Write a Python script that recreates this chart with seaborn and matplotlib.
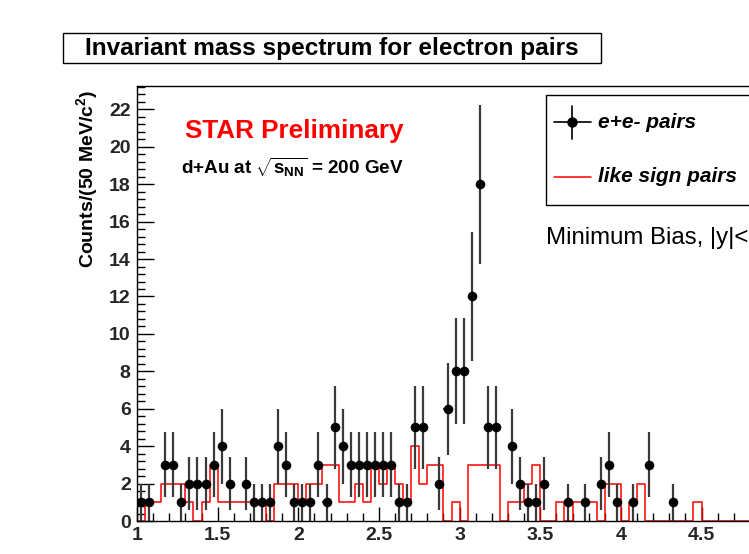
import numpy as np
import pandas as pd
import matplotlib
matplotlib.use("Agg")
import matplotlib.pyplot as plt
import seaborn as sns
from matplotlib.patches import Rectangle
from matplotlib.lines import Line2D
from matplotlib.ticker import MultipleLocator

# ---------------- data ----------------
# unlike-sign e+e- pairs (bin centres, GeV/c^2) and counts per 50 MeV/c^2
ee_mass = [1.025, 1.075, 1.175, 1.225, 1.275, 1.325, 1.375, 1.425, 1.475, 1.525,
           1.575, 1.675, 1.725, 1.775, 1.825, 1.875, 1.925, 1.975, 2.025, 2.075,
           2.125, 2.175, 2.225, 2.275, 2.325, 2.375, 2.425, 2.475, 2.525, 2.575,
           2.625, 2.675, 2.725, 2.775, 2.875, 2.925, 2.975, 3.025, 3.075, 3.125,
           3.175, 3.225, 3.325, 3.375, 3.425, 3.475, 3.525, 3.675, 3.775, 3.875,
           3.925, 3.975, 4.075, 4.175, 4.325]
ee_counts = [1, 1, 3, 3, 1, 2, 2, 2, 3, 4,
             2, 2, 1, 1, 1, 4, 3, 1, 1, 1,
             3, 1, 5, 4, 3, 3, 3, 3, 3, 3,
             1, 1, 5, 5, 2, 6, 8, 8, 12, 18,
             5, 5, 4, 2, 1, 1, 2, 1, 1, 2,
             3, 1, 1, 3, 1]

# like-sign pairs histogram, 50 MeV bins from 1.0 to 5.0
ls_edges = [round(1.0 + 0.05 * i, 3) for i in range(81)]
ls_counts = [0, 1, 1, 2, 2, 2, 1, 0, 1, 3,
             1, 1, 1, 1, 1, 1, 0, 2, 2, 2,
             1, 2, 2, 3, 3, 1, 1, 2, 1, 3,
             2, 3, 2, 1, 4, 2, 3, 3, 0, 1,
             0, 3, 3, 3, 3, 0, 1, 1, 2, 3,
             0, 0, 1, 0, 1, 1, 1, 0, 2, 2,
             0, 1, 2, 0, 0, 0, 0, 0, 0, 1,
             0, 0, 0, 0, 0, 0, 0, 0, 0, 0]

xtick_vals = [1, 1.5, 2, 2.5, 3, 3.5, 4, 4.5]
xtick_labels = ["1", "1.5", "2", "2.5", "3", "3.5", "4", "4.5"]
ytick_vals = [0, 2, 4, 6, 8, 10, 12, 14, 16, 18, 20, 22]

# ---------------- style ----------------
sns.set_theme(style="white")
plt.rcParams["font.family"] = ["Liberation Sans", "DejaVu Sans"]
plt.rcParams["mathtext.fontset"] = "custom"
plt.rcParams["mathtext.rm"] = "Liberation Sans"
plt.rcParams["mathtext.bf"] = "Liberation Sans:bold"
plt.rcParams["mathtext.it"] = "Liberation Sans:italic"

W, H = 749, 554
fig = plt.figure(figsize=(W / 100, H / 100), dpi=100)
fig.patch.set_facecolor("white")

def fx(px):
    return px / W

def fy(py):
    return 1 - py / H

x0_px, x1_px = 137, 137 + 4 * 161.3
ytop_px, ybot_px = 86, 521
ax = fig.add_axes([fx(x0_px), fy(ybot_px), (x1_px - x0_px) / W, (ybot_px - ytop_px) / H])
ax.set_facecolor("white")

# like-sign histogram (red step)
centers = [(a + b) / 2 for a, b in zip(ls_edges[:-1], ls_edges[1:])]
ls_df = pd.DataFrame({"mass": centers, "counts": ls_counts})
sns.histplot(data=ls_df, x="mass", weights="counts", bins=ls_edges, element="step",
             fill=False, color="#ff0000", linewidth=1.1, ax=ax, zorder=2)

# e+e- pairs with sqrt(N) error bars
ee_err = np.sqrt(np.array(ee_counts, dtype=float))
ax.errorbar(ee_mass, ee_counts, yerr=ee_err, xerr=0.025, fmt="none",
            ecolor="#3a3a3a", elinewidth=1.6, capsize=0, zorder=3)
sns.scatterplot(x=ee_mass, y=ee_counts, color="black", s=48, edgecolor="black",
                linewidth=0, ax=ax, zorder=4, legend=False)

ax.set_xlim(1, 5)
ax.set_ylim(0, 23.25)
ax.set_xlabel("")
ax.set_ylabel("")

ax.set_xticks(xtick_vals)
ax.set_xticklabels(xtick_labels, fontsize=14, fontweight="bold")
ax.set_yticks(ytick_vals)
ax.set_yticklabels([str(v) for v in ytick_vals], fontsize=14, fontweight="bold")
ax.xaxis.set_minor_locator(MultipleLocator(0.1))
ax.yaxis.set_minor_locator(MultipleLocator(0.4))
ax.tick_params(axis="x", which="major", direction="in", length=10, width=1, pad=4.5,
               bottom=True, top=False, color="black")
ax.tick_params(axis="x", which="minor", direction="in", length=6, width=1,
               bottom=True, top=False, color="black")
ax.tick_params(axis="y", which="major", direction="in", length=12, width=1, pad=4.5,
               left=True, right=False, color="black")
ax.tick_params(axis="y", which="minor", direction="in", length=6, width=1,
               left=True, right=False, color="black")
for s in ax.spines.values():
    s.set_color("black")
    s.set_linewidth(1.0)
    s.set_zorder(5)

# y-axis title
fig.text(fx(87), fy(179), "Counts/(50 MeV/c$^{\\mathbf{2}}$)", rotation=90,
         ha="center", va="center", fontsize=14, fontweight="bold", color="black")

# title box
fig.patches.append(Rectangle((fx(63), fy(63)), fx(601) - fx(63), fy(33) - fy(63),
                             transform=fig.transFigure, fill=True, facecolor="white",
                             edgecolor="black", linewidth=1.0))
fig.text(fx(332), fy(48), "Invariant mass spectrum for electron pairs",
         ha="center", va="center", fontsize=17.6, fontweight="bold", color="black")

# annotations
fig.text(fx(294), fy(131), "STAR Preliminary", ha="center", va="center",
         fontsize=18.8, fontweight="bold", color="#ff0000")
fig.text(fx(181), fy(167), r"d+Au at $\sqrt{\mathbf{s}_{\mathbf{NN}}}$ = 200 GeV",
         ha="left", va="center", fontsize=13.6, fontweight="bold", color="black")
fig.text(fx(546), fy(238), "Minimum Bias, |y|<", ha="left", va="center",
         fontsize=17.3, color="black")

# legend box (extends past the right edge like the reference)
fig.patches.append(Rectangle((fx(546), fy(205)), fx(800) - fx(546), fy(95) - fy(205),
                             transform=fig.transFigure, fill=True, facecolor="white",
                             edgecolor="black", linewidth=1.0, zorder=6))
fig.lines.append(Line2D([fx(554), fx(591)], [fy(122), fy(122)], transform=fig.transFigure,
                        color="black", linewidth=1.2, zorder=7))
fig.lines.append(Line2D([fx(572), fx(572)], [fy(106), fy(139)], transform=fig.transFigure,
                        color="black", linewidth=1.2, zorder=7))
fig.lines.append(Line2D([fx(572)], [fy(122)], transform=fig.transFigure, marker="o",
                        markersize=6.5, color="black", linestyle="none", zorder=8))
fig.text(fx(598), fy(122), "e+e- pairs", ha="left", va="center", fontsize=15,
         fontweight="bold", fontstyle="italic", color="black", zorder=8)
fig.lines.append(Line2D([fx(554), fx(591)], [fy(177), fy(177)], transform=fig.transFigure,
                        color="#ff0000", linewidth=1.1, zorder=7))
fig.text(fx(598), fy(177), "like sign pairs", ha="left", va="center", fontsize=15,
         fontweight="bold", fontstyle="italic", color="black", zorder=8)

fig.savefig("out.png", dpi=100, facecolor="white")
